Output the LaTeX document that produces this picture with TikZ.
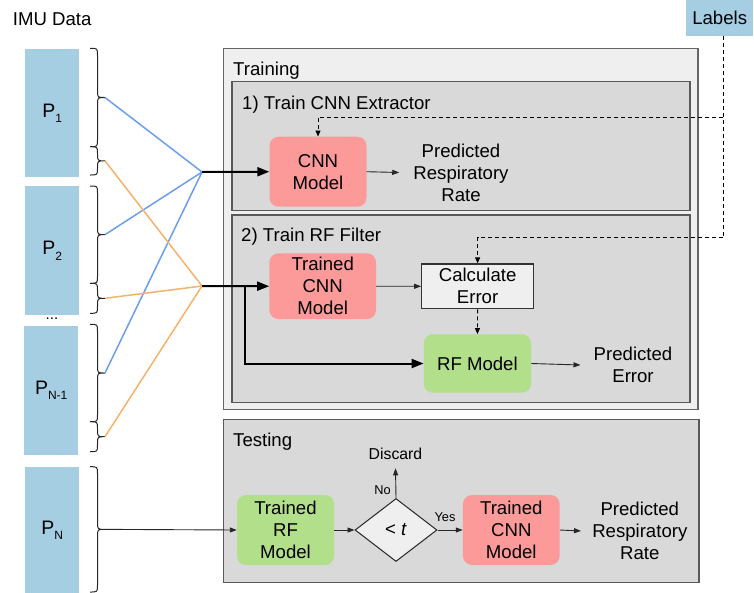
\documentclass[tikz,border=0pt]{standalone}
\usepackage{fontspec}
\setmainfont{Liberation Sans}
\usetikzlibrary{arrows.meta,shapes.geometric}

\definecolor{pblue}{HTML}{A6CEE3}
\definecolor{cnnred}{HTML}{FB9A99}
\definecolor{rfgreen}{HTML}{B2DF8A}
\definecolor{lineblue}{HTML}{6D9EEB}
\definecolor{lineorange}{HTML}{F6B26B}
\definecolor{panelgray}{HTML}{D9D9D9}
\definecolor{paleboxgray}{HTML}{EFEFEF}

\newcommand\bodyfont{\fontsize{18.6}{22}\selectfont}
\newcommand\pfont{\fontsize{19.5}{22}\selectfont}
\newcommand\psub[1]{\raisebox{-5.5pt}{\fontsize{12}{12}\selectfont #1}}

% right curly brace from y=#1 to y=#2, tip coordinate named #3
\newcommand\imubrace[3]{%
  \draw[bracepath] (90,#1) .. controls (97.5,#1) .. (97.5,#1+7)
    -- (97.5,{(#1+#2)/2-7}) .. controls (97.5,{(#1+#2)/2}) .. (105,{(#1+#2)/2})
    .. controls (97.5,{(#1+#2)/2}) .. (97.5,{(#1+#2)/2+7})
    -- (97.5,#2-7) .. controls (97.5,#2) .. (90,#2);
  \coordinate (#3) at (105,{(#1+#2)/2});
}

\tikzset{
  every node/.style={font=\bodyfont, inner sep=0pt},
  pbox/.style={fill=pblue, anchor=north west, font=\pfont},
  redbox/.style={fill=cnnred, rounded corners=9pt, align=center},
  greenbox/.style={fill=rfgreen, rounded corners=9pt, align=center},
  calcbox/.style={fill=paleboxgray, draw=black!80, line width=1.2pt, align=center},
  decision/.style={diamond, fill=paleboxgray, draw=black!85, line width=1pt,
    minimum width=82pt, minimum height=63pt},
  txt/.style={align=center},
  title/.style={anchor=base west},
  smalltxt/.style={font=\fontsize{12.8}{14}\selectfont},
  outerpanel/.style={fill=paleboxgray, draw=black!60, line width=1.5pt},
  innerpanel/.style={fill=panelgray, draw=black!65, line width=1.3pt},
  bracepath/.style={draw=black!85, line width=1pt},
  blueline/.style={draw=lineblue, line width=1.5pt},
  orangeline/.style={draw=lineorange, line width=1.5pt},
  thinarrow/.style={draw=black!85, line width=0.9pt, -{Triangle[length=7pt,width=5pt]}},
  thickline/.style={draw=black, line width=2pt},
  thickarrow/.style={thickline, -{Triangle[length=12pt,width=9pt]}},
  dashline/.style={draw=black, line width=0.9pt, dash pattern=on 4pt off 3pt},
  dasharrow/.style={dashline, -{Triangle[length=6pt,width=5pt]}},
}

\begin{document}
\begin{tikzpicture}[x=1pt, y=-1pt]
\useasboundingbox (0,0) rectangle (754,592);

% panels
\draw[outerpanel] (223.4,48.3) rectangle (698,409.3);
\draw[innerpanel] (232,81.7) rectangle (690,210.7);
\draw[innerpanel] (232,215) rectangle (690,402.3);
\draw[innerpanel] (223.4,419.3) rectangle (699,582.7);

\node[title] (ttrain) at (233,75) {Training};
\node[title] (tstep1) at (242,109.3) {1) Train CNN Extractor};
\node[title] (tstep2) at (241,241.7) {2) Train RF Filter};
\node[title] (ttest) at (233,446) {Testing};

% data partitions
\node[title] (imu) at (12.7,25) {IMU Data};
\node[pbox, minimum width=54pt, minimum height=127.7pt] (p1) at (25,49) {P\psub{1}};
\node[pbox, minimum width=54pt, minimum height=128.7pt] (p2) at (25,186) {P\psub{2}};
\node[anchor=base, font=\fontsize{15}{15}\selectfont] (dots) at (52,319.5) {...};
\node[pbox, minimum width=54pt, minimum height=128.3pt] (pn1) at (24,326) {P\psub{N-1}};
\node[pbox, minimum width=54pt, minimum height=126pt] (pn) at (25,467) {P\psub{N}};
\node[pbox, font=\bodyfont, minimum width=67pt, minimum height=36pt] (labels) at (686,0) {Labels};

% braces
\imubrace{48.3}{146.7}{bA}
\imubrace{146.7}{175}{bB}
\imubrace{186}{283.3}{bC}
\imubrace{283.3}{313.3}{bD}
\imubrace{324.3}{421.7}{bE}
\imubrace{421.7}{451.7}{bF}
\imubrace{466.7}{592}{bG}

\coordinate (hub1) at (202,172);
\coordinate (hub2) at (202,286);
\coordinate (branch) at (244.5,286);

\draw[blueline] (bA) -- (hub1);
\draw[blueline] (bC) -- (hub1);
\draw[blueline] (bE) -- (hub1);
\draw[orangeline] (bB) -- (hub2);
\draw[orangeline] (bD) -- (hub2);
\draw[orangeline] (bF) -- (hub2);

% training step 1
\node[redbox, minimum width=97pt, minimum height=70pt] (cnn) at (318,171.7) {CNN\\Model};
\node[txt] (predrr1) at (461,172.5) {Predicted\\Respiratory\\Rate};

% training step 2
\node[redbox, minimum width=106.6pt, minimum height=65.7pt] (tcnn) at (322.7,286.2) {Trained\\CNN\\Model};
\node[calcbox, minimum width=111.8pt, minimum height=44.7pt] (calc) at (477.6,286.3) {Calculate\\Error};
\node[greenbox, minimum width=107.3pt, minimum height=58.4pt] (rf) at (477.4,363.5) {RF Model};
\node[txt] (prederr) at (633,365) {Predicted\\Error};

% testing
\node[greenbox, minimum width=97pt, minimum height=70pt] (trf) at (285.5,530) {Trained\\RF\\Model};
\node[decision] (dec) at (396,530) {< \textit{t}};
\node[redbox, minimum width=96.7pt, minimum height=70pt] (tcnn2) at (511.3,530) {Trained\\CNN\\Model};
\node[txt] (predrr2) at (639.8,531) {Predicted\\Respiratory\\Rate};
\node[font=\fontsize{15.8}{16}\selectfont] (discard) at (395.5,454.3) {Discard};
\node[smalltxt] (nolbl) at (382.5,490) {No};
\node[smalltxt] (yeslbl) at (445,517.3) {Yes};

% connectors
\draw[thickarrow] (hub1) -- (cnn.west);
\draw[thickarrow] (hub2) -- (tcnn.west);
\draw[thickarrow] (branch) |- (rf.west);
\draw[thinarrow] (bG) -- (trf.west);

\draw[thinarrow] (cnn.east) -- ([xshift=-14pt]predrr1.west);
\draw[thinarrow] (tcnn.east) -- (calc.west);
\draw[thinarrow] (rf.east) -- ([xshift=-13pt]prederr.west);
\draw[thinarrow] (trf.east) -- (dec.west);
\draw[thinarrow] (dec.east) -- (tcnn2.west);
\draw[thinarrow] (dec.north) -- ([yshift=-8pt]discard.south);
\draw[thinarrow] (tcnn2.east) -- ([xshift=-11pt]predrr2.west);

\coordinate (lj1) at (723,117);
\coordinate (lj2) at (723,237.3);
\draw[dashline] (labels.south -| lj1) -- (lj2);
\draw[dasharrow] (lj1) -| (cnn.north);
\draw[dasharrow] (lj2) -| (calc.north);
\draw[dasharrow] (calc.south) -- (rf.north);
\end{tikzpicture}
\end{document}
